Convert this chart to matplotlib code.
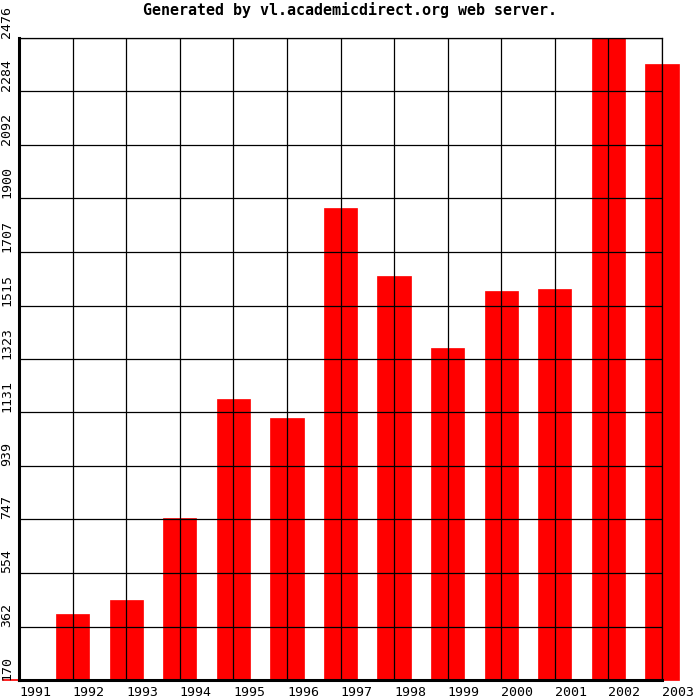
import matplotlib
matplotlib.use("Agg")
import matplotlib.pyplot as plt

years = [1991, 1992, 1993, 1994, 1995, 1996, 1997, 1998, 1999, 2000, 2001, 2002, 2003]
values = [172, 407, 457, 752, 1179, 1111, 1865, 1621, 1363, 1567, 1574, 2476, 2383]
y_ticks = [170, 362, 554, 747, 939, 1131, 1323, 1515, 1707, 1900, 2092, 2284, 2476]

plt.rcParams['font.family'] = 'DejaVu Sans Mono'

fig = plt.figure(figsize=(7, 7), dpi=100)
ax = fig.add_axes([19 / 700, 20 / 700, 643 / 700, 642 / 700])

bottom = y_ticks[0]
heights = [v - bottom for v in values]
ax.bar(years, heights, bottom=bottom, width=0.62, color='#ff0000',
       edgecolor='#ff0000', linewidth=0.5, clip_on=False, zorder=1)

ax.set_xlim(years[0], years[-1])
ax.set_ylim(y_ticks[0], y_ticks[-1])

ax.set_xticks(years)
ax.set_xticklabels([str(y) for y in years], ha='left', fontsize=9.5)
ax.set_yticks(y_ticks)
ax.set_yticklabels([str(t) for t in y_ticks], rotation=90, va='bottom',
                   ha='right', fontsize=9.5)
ax.tick_params(axis='x', length=0, pad=4)
ax.tick_params(axis='y', length=0, pad=4)

ax.set_axisbelow(False)
ax.grid(True, color='black', linewidth=0.9)

ax.spines['left'].set_linewidth(2.2)
ax.spines['bottom'].set_linewidth(2.2)
ax.spines['top'].set_linewidth(0.9)
ax.spines['right'].set_linewidth(0.9)
for s in ax.spines.values():
    s.set_zorder(3)

fig.text(0.5, 1 - 10 / 700, "Generated by vl.academicdirect.org web server.",
         ha='center', va='center', fontsize=10.8, fontweight='bold')

fig.savefig("out.png", dpi=100)
